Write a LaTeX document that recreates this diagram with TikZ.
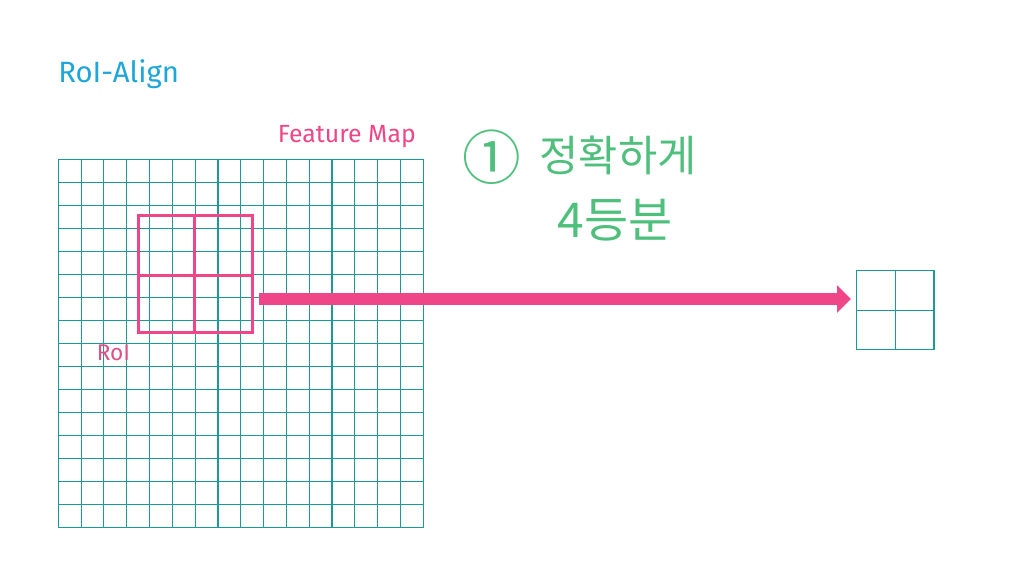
\documentclass[tikz,border=0pt]{standalone}
\usepackage{fontspec}
\setmainfont{Fira Sans}
\newfontfamily\krfont{Noto Sans CJK KR}
\usetikzlibrary{arrows.meta}
\definecolor{gridteal}{HTML}{1A9A94}
\definecolor{roipink}{HTML}{EE4687}
\definecolor{titleblue}{HTML}{1FA6D8}
\definecolor{notegreen}{HTML}{4FBF7C}

\begin{document}
\begin{tikzpicture}[x=0.75pt, y=-0.75pt,
  gridline/.style={gridteal, line width=0.8pt},
  roiline/.style={roipink, line width=2.4pt},
  note/.style={notegreen, font=\krfont\fontsize{32}{36}\selectfont}]
\useasboundingbox (0,0) rectangle (1020,574);
% title
\node[titleblue, anchor=base west, inner sep=0pt, font=\fontsize{22}{26}\selectfont] (title) at (58,83) {RoI-Align};
% feature map 16x16
\foreach \i in {0,...,16} {
  \draw[gridline] (58.3+22.81*\i,159.3) -- (58.3+22.81*\i,527.3);
  \draw[gridline] (58.3,159.3+23*\i) -- (424,159.3+23*\i);
}
\node[roipink, anchor=base east, inner sep=0pt, font=\fontsize{18.6}{22}\selectfont] (fmap) at (416,143) {Feature Map};
% roi split in 4
\draw[roiline] (138.3,215.3) rectangle (252.3,332.3);
\draw[roiline] (194.3,215.3) -- (194.3,332.3);
\draw[roiline] (138.3,275.3) -- (252.3,275.3);
\node[roipink!85!gray, anchor=base west, inner sep=0pt, font=\fontsize{17}{20}\selectfont] (roilabel) at (96.5,360) {RoI};
% output 2x2
\draw[gridline] (856.7,270.7) rectangle (934,349.3);
\draw[gridline] (895.3,270.7) -- (895.3,349.3);
\draw[gridline] (856.7,310.3) -- (934,310.3);
% arrow
\coordinate (arrowstart) at (259,299);
\coordinate (arrowend) at (851,299);
\draw[roipink, line width=9pt, -{Triangle[length=10.5pt, width=20pt]}] (arrowstart) -- (arrowend);
% handwritten note
\node[note, font=\krfont\fontsize{44}{48}\selectfont] (num) at (492,157) {①};
\node[note] (line1) at (618,155) {정확하게};
\node[note, font=\krfont\fontsize{36}{40}\selectfont] (line2) at (615,220) {4등분};
\end{tikzpicture}
\end{document}
